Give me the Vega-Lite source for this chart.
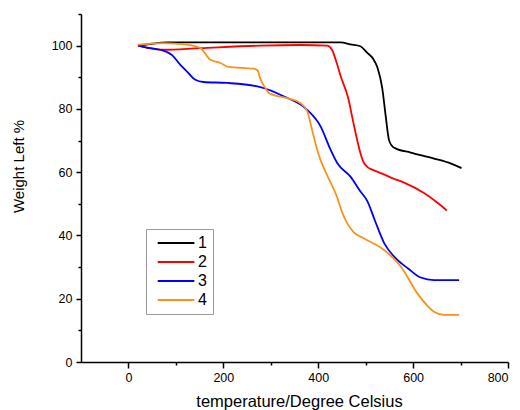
{
  "$schema": "https://vega.github.io/schema/vega-lite/v6.json",
  "width": 427,
  "height": 348,
  "autosize": {"type": "none"},
  "padding": {"left": 81, "top": 14, "right": 12, "bottom": 48},
  "background": "white",
  "config": {
    "view": {"stroke": null},
    "font": "Liberation Sans",
    "axis": {
      "domainColor": "#000000",
      "domainWidth": 1.5,
      "tickColor": "#000000",
      "tickWidth": 1.5,
      "labelColor": "#000000",
      "labelFontSize": 12.5,
      "titleColor": "#000000",
      "titleFontWeight": "normal",
      "grid": false
    }
  },
  "data": {
    "values": [
      {"s": "1", "t": 20, "w": 100},
      {"s": "1", "t": 50, "w": 100.6},
      {"s": "1", "t": 80, "w": 101},
      {"s": "1", "t": 150, "w": 101},
      {"s": "1", "t": 250, "w": 101},
      {"s": "1", "t": 350, "w": 101},
      {"s": "1", "t": 447, "w": 101},
      {"s": "1", "t": 468, "w": 100.4},
      {"s": "1", "t": 489, "w": 99.8},
      {"s": "1", "t": 503, "w": 97.8},
      {"s": "1", "t": 515, "w": 96},
      {"s": "1", "t": 525, "w": 93},
      {"s": "1", "t": 535, "w": 86.5},
      {"s": "1", "t": 542, "w": 78},
      {"s": "1", "t": 549, "w": 70.3},
      {"s": "1", "t": 556, "w": 68.2},
      {"s": "1", "t": 562, "w": 67.6},
      {"s": "1", "t": 595, "w": 66.2},
      {"s": "1", "t": 644, "w": 64.3},
      {"s": "1", "t": 680, "w": 62.7},
      {"s": "1", "t": 702, "w": 61.3},

      {"s": "2", "t": 20, "w": 100},
      {"s": "2", "t": 40, "w": 99.3},
      {"s": "2", "t": 73, "w": 98.7},
      {"s": "2", "t": 150, "w": 99.2},
      {"s": "2", "t": 278, "w": 100},
      {"s": "2", "t": 362, "w": 100.2},
      {"s": "2", "t": 419, "w": 100},
      {"s": "2", "t": 429, "w": 98.7},
      {"s": "2", "t": 438, "w": 95},
      {"s": "2", "t": 447, "w": 90.5},
      {"s": "2", "t": 463, "w": 83.5},
      {"s": "2", "t": 475, "w": 75},
      {"s": "2", "t": 489, "w": 66},
      {"s": "2", "t": 496, "w": 63},
      {"s": "2", "t": 504, "w": 61.6},
      {"s": "2", "t": 514, "w": 60.8},
      {"s": "2", "t": 532, "w": 59.7},
      {"s": "2", "t": 560, "w": 57.9},
      {"s": "2", "t": 581, "w": 56.7},
      {"s": "2", "t": 623, "w": 53.4},
      {"s": "2", "t": 650, "w": 50.5},
      {"s": "2", "t": 671, "w": 47.9},

      {"s": "3", "t": 21, "w": 100},
      {"s": "3", "t": 39, "w": 99.4},
      {"s": "3", "t": 67, "w": 98.7},
      {"s": "3", "t": 92, "w": 97},
      {"s": "3", "t": 109, "w": 94},
      {"s": "3", "t": 123, "w": 91.9},
      {"s": "3", "t": 141, "w": 89.2},
      {"s": "3", "t": 158, "w": 88.5},
      {"s": "3", "t": 208, "w": 88.2},
      {"s": "3", "t": 278, "w": 86.9},
      {"s": "3", "t": 327, "w": 84},
      {"s": "3", "t": 376, "w": 79.8},
      {"s": "3", "t": 405, "w": 74.5},
      {"s": "3", "t": 426, "w": 67.1},
      {"s": "3", "t": 440, "w": 62.9},
      {"s": "3", "t": 468, "w": 58.6},
      {"s": "3", "t": 489, "w": 53.9},
      {"s": "3", "t": 503, "w": 51},
      {"s": "3", "t": 520, "w": 44.5},
      {"s": "3", "t": 539, "w": 37.6},
      {"s": "3", "t": 560, "w": 33.3},
      {"s": "3", "t": 590, "w": 29.5},
      {"s": "3", "t": 616, "w": 26.7},
      {"s": "3", "t": 644, "w": 25.9},
      {"s": "3", "t": 697, "w": 25.9},

      {"s": "4", "t": 20, "w": 100.3},
      {"s": "4", "t": 73, "w": 100.8},
      {"s": "4", "t": 123, "w": 100.3},
      {"s": "4", "t": 151, "w": 99.3},
      {"s": "4", "t": 172, "w": 95.6},
      {"s": "4", "t": 194, "w": 94.5},
      {"s": "4", "t": 211, "w": 93.3},
      {"s": "4", "t": 264, "w": 92.7},
      {"s": "4", "t": 272, "w": 92.2},
      {"s": "4", "t": 278, "w": 89.5},
      {"s": "4", "t": 289, "w": 86.5},
      {"s": "4", "t": 296, "w": 85},
      {"s": "4", "t": 334, "w": 83.4},
      {"s": "4", "t": 362, "w": 81.9},
      {"s": "4", "t": 377, "w": 79.2},
      {"s": "4", "t": 387, "w": 73.4},
      {"s": "4", "t": 398, "w": 67},
      {"s": "4", "t": 405, "w": 63.8},
      {"s": "4", "t": 419, "w": 59},
      {"s": "4", "t": 440, "w": 52},
      {"s": "4", "t": 450, "w": 47.5},
      {"s": "4", "t": 461, "w": 43.9},
      {"s": "4", "t": 475, "w": 41},
      {"s": "4", "t": 496, "w": 39.1},
      {"s": "4", "t": 539, "w": 35.4},
      {"s": "4", "t": 574, "w": 30.2},
      {"s": "4", "t": 609, "w": 21.7},
      {"s": "4", "t": 644, "w": 15.9},
      {"s": "4", "t": 665, "w": 14.9},
      {"s": "4", "t": 697, "w": 14.9}
    ]
  },
  "mark": {"type": "line", "interpolate": "monotone", "strokeWidth": 1.8},
  "encoding": {
    "x": {
      "field": "t",
      "type": "quantitative",
      "scale": {"domain": [-100, 800], "nice": false, "zero": false},
      "axis": {
        "title": "temperature/Degree Celsius",
        "titleFontSize": 16.5,
        "titleX": 218,
        "titleY": 31,
        "titleBaseline": "top",
        "values": [0, 100, 200, 300, 400, 500, 600, 700, 800],
        "labelExpr": "datum.value % 200 == 0 ? datum.label : ''",
        "tickSize": {"condition": {"test": "datum.value % 200 == 0", "value": 6}, "value": 3},
        "labelPadding": 3
      }
    },
    "y": {
      "field": "w",
      "type": "quantitative",
      "scale": {"domain": [0, 110], "nice": false},
      "axis": {
        "title": "Weight Left %",
        "titleFontSize": 15,
        "titleX": -55,
        "titleY": 152,
        "titleAngle": 270,
        "titleBaseline": "bottom",
        "titleAlign": "center",
        "values": [0, 10, 20, 30, 40, 50, 60, 70, 80, 90, 100, 110],
        "labelExpr": "datum.value % 20 == 0 ? datum.label : ''",
        "tickSize": {"condition": {"test": "datum.value % 20 == 0", "value": 5}, "value": 3},
        "labelPadding": 4
      }
    },
    "color": {
      "field": "s",
      "type": "nominal",
      "scale": {"domain": ["1", "2", "3", "4"], "range": ["#000000", "#ff0000", "#0000ff", "#f7931e"]},
      "legend": {
        "title": null,
        "orient": "none",
        "legendX": 65,
        "legendY": 215,
        "symbolType": "M-1,0H15",
        "symbolSize": 21,
        "symbolStrokeWidth": 2,
        "labelOffset": 30,
        "labelFontSize": 16,
        "labelColor": "#000000",
        "strokeColor": "#999999",
        "fillColor": "#ffffff",
        "padding": 6,
        "rowPadding": 3
      }
    }
  }
}
